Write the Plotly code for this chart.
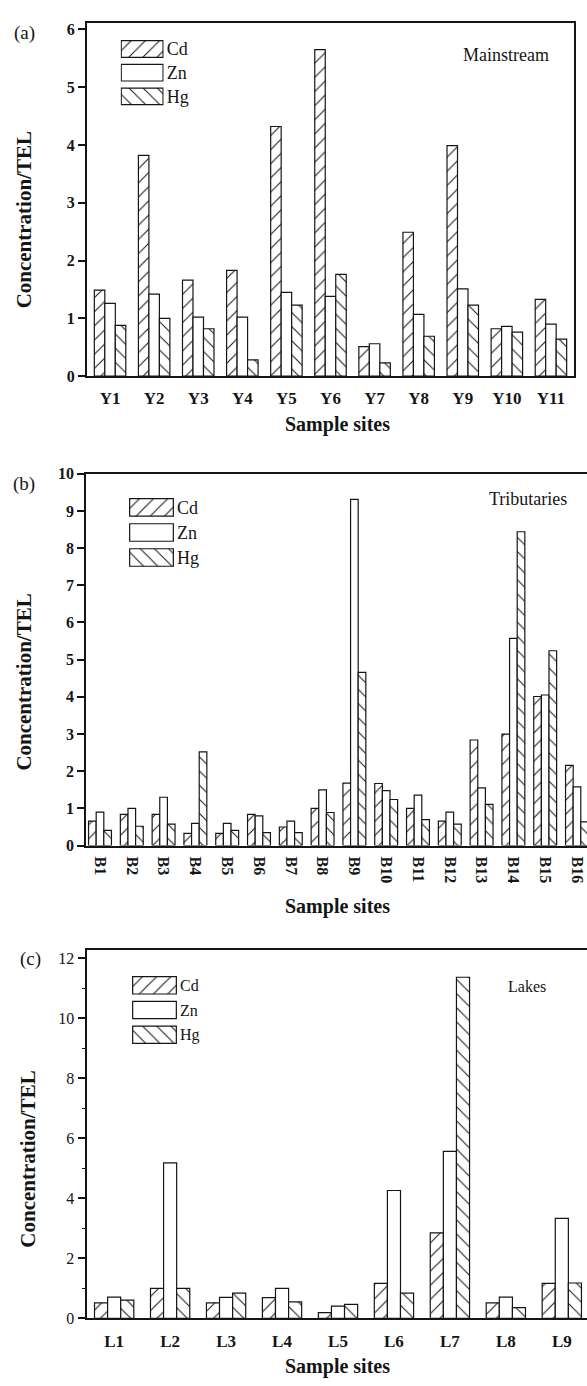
import plotly.graph_objects as go

W, H = 587, 1386
FONT = "Times New Roman, Liberation Serif, Tinos, serif"
INK = "#151515"

# ---------------- data ----------------
elements = ["Cd", "Zn", "Hg"]

sites_a = ["Y1", "Y2", "Y3", "Y4", "Y5", "Y6", "Y7", "Y8", "Y9", "Y10", "Y11"]
cd_a = [1.49, 3.82, 1.66, 1.83, 4.32, 5.65, 0.51, 2.49, 3.99, 0.82, 1.33]
zn_a = [1.26, 1.42, 1.02, 1.02, 1.45, 1.38, 0.56, 1.07, 1.51, 0.86, 0.90]
hg_a = [0.88, 1.00, 0.82, 0.28, 1.23, 1.76, 0.23, 0.69, 1.23, 0.76, 0.64]

sites_b = ["B1", "B2", "B3", "B4", "B5", "B6", "B7", "B8", "B9", "B10",
           "B11", "B12", "B13", "B14", "B15", "B16"]
cd_b = [0.66, 0.84, 0.84, 0.33, 0.33, 0.84, 0.50, 1.00, 1.68, 1.67,
        1.00, 0.66, 2.84, 3.00, 4.01, 2.16]
zn_b = [0.90, 1.00, 1.30, 0.60, 0.60, 0.80, 0.66, 1.50, 9.31, 1.48,
        1.36, 0.90, 1.55, 5.57, 4.05, 1.58]
hg_b = [0.41, 0.52, 0.58, 2.52, 0.41, 0.35, 0.35, 0.89, 4.66, 1.24,
        0.70, 0.58, 1.11, 8.44, 5.24, 0.64]

sites_c = ["L1", "L2", "L3", "L4", "L5", "L6", "L7", "L8", "L9"]
cd_c = [0.52, 1.00, 0.52, 0.69, 0.19, 1.17, 2.85, 0.52, 1.17]
zn_c = [0.71, 5.18, 0.70, 1.00, 0.41, 4.26, 5.56, 0.71, 3.33]
hg_c = [0.61, 1.00, 0.84, 0.55, 0.47, 0.84, 11.36, 0.36, 1.18]

# ---------------- helpers ----------------
def fx(px):
    return px / W


def fy(py):
    return 1 - py / H


shape_of = {"Cd": "/", "Zn": "", "Hg": "\\"}
HATCH = dict(fgcolor=INK, bgcolor="white", size=10, solidity=0.1, fillmode="replace")


def marker_for(el):
    return dict(
        color="white",
        line=dict(color=INK, width=1.2),
        pattern=dict(shape=shape_of[el], **HATCH),
    )


fig = go.Figure()

panels = [
    dict(sites=sites_a, vals=[cd_a, zn_a, hg_a], ax="", w=0.238),
    dict(sites=sites_b, vals=[cd_b, zn_b, hg_b], ax="2", w=0.24),
    dict(sites=sites_c, vals=[cd_c, zn_c, hg_c], ax="3", w=0.234),
]

for p in panels:
    w = p["w"]
    for i, (el, v) in enumerate(zip(elements, p["vals"])):
        fig.add_trace(go.Bar(
            x=p["sites"], y=v, name=el, width=w, offset=(i - 1.5) * w,
            marker=marker_for(el), showlegend=False,
            xaxis="x" + p["ax"], yaxis="y" + p["ax"],
        ))

# custom legends (large swatches like the original)
leg_specs = [
    dict(ax="4", xd=[120.6, 163.7], yd=[29.5, 101.5], size=18),
    dict(ax="5", xd=[129, 174], yd=[493, 569], size=18),
    dict(ax="6", xd=[132, 177], yd=[977, 1052], size=16),
]
for s in leg_specs:
    fig.add_trace(go.Bar(
        x=[1, 1, 1], y=elements, orientation="h", width=0.7,
        marker=dict(color="white", line=dict(color=INK, width=1.2),
                    pattern=dict(shape=[shape_of[e] for e in elements], **HATCH)),
        showlegend=False, hoverinfo="skip",
        xaxis="x" + s["ax"], yaxis="y" + s["ax"],
    ))

axis_line = dict(showline=True, linecolor=INK, linewidth=1.5, showgrid=False,
                 zeroline=False)

layout = dict(
    width=W, height=H,
    margin=dict(l=0, r=0, t=0, b=0),
    paper_bgcolor="white", plot_bgcolor="white",
    barmode="overlay",
    font=dict(family=FONT, color=INK),
    # panel (a)
    xaxis=dict(domain=[fx(86.7), fx(574.3)], type="category", range=[-0.53, 10.53],
               mirror=True, ticks="", ticklabelstandoff=6,
               tickfont=dict(family=FONT, size=17, weight="bold"), anchor="y",
               **axis_line),
    yaxis=dict(domain=[fy(372.7), fy(14.7)], range=[0, 6.12], dtick=1,
               ticks="outside", ticklen=7, tickwidth=1.5, tickcolor=INK,
               mirror=True, tickfont=dict(family=FONT, size=16, weight="bold"),
               anchor="x", **axis_line),
    # panel (b)
    xaxis2=dict(domain=[fx(86), 1.0], type="category", range=[-0.44, 15.315],
                mirror=True, ticks="", tickangle=90, ticklabelstandoff=6,
                tickfont=dict(family=FONT, size=16, weight="bold"), anchor="y2",
                **axis_line),
    yaxis2=dict(domain=[fy(848), fy(471.5)], range=[0, 10], dtick=1,
                ticks="outside", ticklen=7, tickwidth=1.5, tickcolor=INK,
                mirror=False, tickfont=dict(family=FONT, size=16, weight="bold"),
                anchor="x2", **axis_line),
    # panel (c)
    xaxis3=dict(domain=[fx(87.3), 1.0], type="category", range=[-0.48, 8.45],
                mirror=True, ticks="", ticklabelstandoff=6,
                tickfont=dict(family=FONT, size=17, weight="bold"), anchor="y3",
                **axis_line),
    yaxis3=dict(domain=[fy(1326.7), fy(953.3)], range=[0, 12.28], dtick=2,
                ticks="outside", ticklen=8, tickwidth=1.5, tickcolor=INK,
                minor=dict(dtick=1, ticks="outside", ticklen=4, tickwidth=1.3,
                           tickcolor=INK),
                mirror=False, tickfont=dict(family=FONT, size=16),
                anchor="x3", **axis_line),
)

for s in leg_specs:
    a = s["ax"]
    layout["xaxis" + a] = dict(domain=[fx(s["xd"][0]), fx(s["xd"][1])],
                               range=[-0.015, 1.015], visible=False,
                               anchor="y" + a, fixedrange=True)
    layout["yaxis" + a] = dict(domain=[fy(s["yd"][1]), fy(s["yd"][0])],
                               type="category", autorange="reversed",
                               side="right", ticks="", showgrid=False,
                               zeroline=False, showline=False,
                               ticklabelstandoff=2,
                               tickfont=dict(family=FONT, size=s["size"]),
                               anchor="x" + a, fixedrange=True)

fig.update_layout(**layout)


def ann(text, x, y, size, bold=False, angle=0):
    fig.add_annotation(
        text=text, x=fx(x), y=fy(y), xref="paper", yref="paper",
        showarrow=False, textangle=angle, xanchor="center", yanchor="middle",
        font=dict(family=FONT, size=size, color=INK,
                  weight="bold" if bold else "normal"),
    )


# panel letters
ann("(a)", 24, 25, 19)
ann("(b)", 24, 482, 19)
ann("(c)", 30, 963, 19)
# inside labels
ann("Mainstream", 506, 48, 18)
ann("Tributaries", 528, 497, 18)
ann("Lakes", 527, 991, 16)
# axis titles
for yc in (215, 683, 1166):
    ann("Concentration/TEL", 24 if yc < 1000 else 28, yc, 21, bold=True, angle=-90)
for yc in (422, 910, 1375):
    ann("Sample sites", 337, yc, 20, bold=True)

fig.write_html("out.html")
